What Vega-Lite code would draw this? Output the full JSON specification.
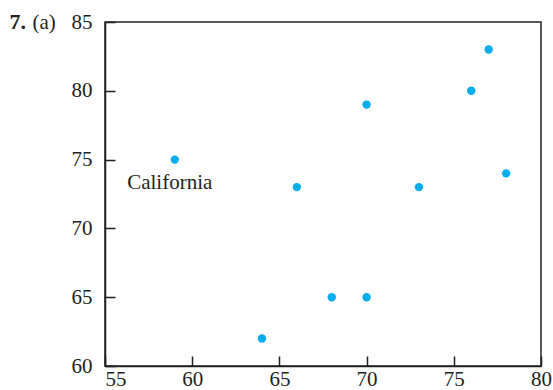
{
  "$schema": "https://vega.github.io/schema/vega-lite/v6.json",
  "autosize": "none",
  "width": 436,
  "height": 344,
  "padding": {"left": 105, "top": 22, "right": 12, "bottom": 24},
  "background": "white",
  "config": {
    "view": {"stroke": "#231f20", "strokeWidth": 1.5},
    "axis": {
      "grid": false,
      "domainColor": "#231f20",
      "domainWidth": 1.5,
      "tickColor": "#231f20",
      "tickWidth": 1.5,
      "tickSize": -10,
      "labelFont": "Liberation Serif",
      "labelFontSize": 21,
      "labelColor": "#231f20",
      "titleFont": "Liberation Serif",
      "titleFontSize": 21,
      "titleColor": "#231f20",
      "titleFontWeight": "normal"
    }
  },
  "data": {
    "values": [
      {"x": 59, "y": 75, "label": "California"},
      {"x": 64, "y": 62, "label": ""},
      {"x": 66, "y": 73, "label": ""},
      {"x": 68, "y": 65, "label": ""},
      {"x": 70, "y": 65, "label": ""},
      {"x": 70, "y": 79, "label": ""},
      {"x": 73, "y": 73, "label": ""},
      {"x": 76, "y": 80, "label": ""},
      {"x": 77, "y": 83, "label": ""},
      {"x": 78, "y": 74, "label": ""}
    ]
  },
  "encoding": {
    "x": {
      "field": "x",
      "type": "quantitative",
      "scale": {"domain": [55, 80], "nice": false, "zero": false},
      "axis": {
        "title": "7.",
        "titleFontWeight": "bold",
        "titleFontSize": 22,
        "titleX": -96,
        "titleY": -338,
        "titleAlign": "left",
        "titleBaseline": "alphabetic",
        "values": [55, 60, 65, 70, 75, 80],
        "labelPadding": 12,
        "labelAlign": {"condition": {"test": "datum.value == 55", "value": "left"}, "value": "center"}
      }
    },
    "y": {
      "field": "y",
      "type": "quantitative",
      "scale": {"domain": [60, 85], "nice": false, "zero": false},
      "axis": {
        "title": "(a)",
        "titleAngle": 0,
        "titleX": -73,
        "titleY": 6,
        "titleAlign": "left",
        "titleBaseline": "alphabetic",
        "values": [60, 65, 70, 75, 80, 85],
        "labelPadding": 23
      }
    }
  },
  "layer": [
    {
      "mark": {"type": "circle", "size": 70, "color": "#00aeef", "opacity": 1}
    },
    {
      "transform": [{"filter": "datum.label != ''"}],
      "mark": {
        "type": "text",
        "font": "Liberation Serif",
        "fontSize": 21,
        "color": "#231f20",
        "align": "center",
        "baseline": "middle",
        "dx": -5,
        "dy": 23
      },
      "encoding": {"text": {"field": "label"}}
    }
  ]
}
